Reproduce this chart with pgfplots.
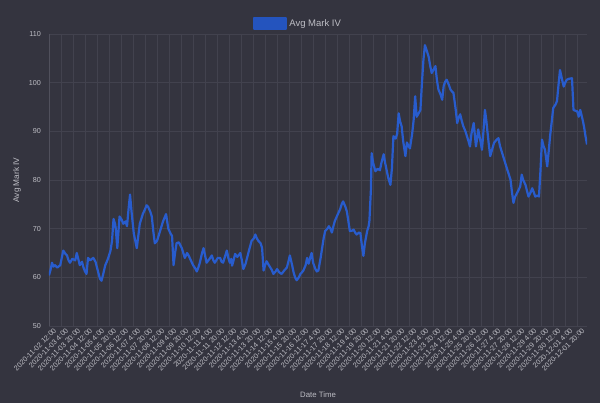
\documentclass[border=0pt]{standalone}
\usepackage{fontspec}
\setmainfont{Liberation Sans}
\usepackage{pgfplots}
\pgfplotsset{compat=1.18}
\definecolor{bg}{RGB}{52,52,63}
\definecolor{gridc}{RGB}{66,66,78}
\definecolor{axc}{RGB}{80,80,92}
\definecolor{txt}{RGB}{190,190,197}
\definecolor{lineblue}{RGB}{40,92,205}
\definecolor{legblue}{RGB}{36,84,190}
\begin{document}
\begin{tikzpicture}[x=1pt,y=1pt]
\fill[bg] (0,0) rectangle (600,403);
\useasboundingbox (0,0) rectangle (600,403);
\begin{axis}[
  at={(49pt,77pt)}, anchor=south west,
  scale only axis, width=538pt, height=292pt,
  xmin=0, xmax=717, ymin=50, ymax=110,
  ytick={50,60,70,80,90,100,110},
  xtick={0,16,...,704},
  xticklabels={2020-11-02 12:00,2020-11-03 4:00,2020-11-03 20:00,2020-11-04 12:00,2020-11-05 4:00,2020-11-05 20:00,2020-11-06 12:00,2020-11-07 4:00,2020-11-07 20:00,2020-11-08 12:00,2020-11-09 4:00,2020-11-09 20:00,2020-11-10 12:00,2020-11-11 4:00,2020-11-11 20:00,2020-11-12 12:00,2020-11-13 4:00,2020-11-13 20:00,2020-11-14 12:00,2020-11-15 4:00,2020-11-15 20:00,2020-11-16 12:00,2020-11-17 4:00,2020-11-17 20:00,2020-11-18 12:00,2020-11-19 4:00,2020-11-19 20:00,2020-11-20 12:00,2020-11-21 4:00,2020-11-21 20:00,2020-11-22 12:00,2020-11-23 4:00,2020-11-23 20:00,2020-11-24 12:00,2020-11-25 4:00,2020-11-25 20:00,2020-11-26 12:00,2020-11-27 4:00,2020-11-27 20:00,2020-11-28 12:00,2020-11-29 4:00,2020-11-29 20:00,2020-11-30 12:00,2020-12-01 4:00,2020-12-01 20:00},
  /pgf/number format/assume math mode=true,
  major tick length=0pt,
  grid=major,
  major grid style={gridc, line width=0.6pt},
  axis line style={draw=none},
  axis x line*=bottom, axis y line*=left,
  x tick label style={font=\fontsize{7.2}{8}\selectfont, text=txt, rotate=45, anchor=north east, inner sep=1pt, yshift=-3pt, xshift=3pt},
  y tick label style={font=\fontsize{7.2}{8}\selectfont, text=txt, inner sep=0pt, xshift=-8pt},
  xlabel={Date Time}, ylabel={Avg Mark IV},
  xlabel style={font=\fontsize{7.8}{9}\selectfont, text=txt, at={(axis description cs:0.5,-0.236)}, anchor=center},
  ylabel style={font=\fontsize{8.3}{9}\selectfont, text=txt, at={(axis description cs:-0.0595,0.5)}, anchor=center},
  legend style={at={(axis description cs:0.463,1.0)}, anchor=center, yshift=10.5pt, draw=none, fill=none, font=\fontsize{9.5}{10}\selectfont, text=txt, inner sep=0pt},
  legend image code/.code={\fill[legblue] (0pt,-5.5pt) rectangle (32pt,5.5pt);},
]
\addplot[draw=axc, line width=0.8pt, forget plot] coordinates {(0,50) (0,110)};
\addplot[draw=axc, line width=0.8pt, forget plot] coordinates {(0,50) (717,50)};
\addplot[lineblue, line width=2.2pt, line join=round] coordinates {
(0,60.4) (2,61.5) (4,63) (6,62.2) (8,62.5) (11,62) (15,62.5) (17,64) (19,65.5) (22,64.8) (24,64.5) (26,63.5) (28,63) (31,63.8) (35,63.5) (37,65) (39,63.8) (41,62.5) (44,63.2) (46,62) (48,61.2) (50,60.7) (52,64) (55,63.5) (59,64) (62,63.2) (64,62) (66,60.8) (68,59.7) (70,59.3) (72,60.5) (75,62.5) (77,63.2) (79,64) (82,65.5) (84,67.5) (86,72) (88,71) (89,70) (91,66) (94,72.5) (97,71.8) (99,71) (102,71.5) (104,70.5) (106,74) (108,77) (110,73.5) (113,69) (115,67.5) (117,66) (119,68.5) (121,71) (125,73) (128,74) (130,74.8) (132,74.5) (135,73.5) (137,72.5) (139,69.5) (141,67) (144,67.5) (146,68.5) (149,70) (152,71.5) (156,73) (159,70) (162,69) (164,68.5) (166,62.5) (168,65) (170,67) (173,67.2) (177,66) (179,65) (181,64) (184,65) (186,64.5) (189,63.5) (192,62.5) (195,61.8) (197,61.2) (199,62) (201,63) (204,65) (206,66) (208,64.5) (210,63) (214,63.8) (217,64.5) (219,63.5) (221,63) (225,64) (228,64) (230,63.2) (232,63) (235,64.5) (237,65.5) (239,64) (241,63) (243,63.8) (244,62.4) (246,63.5) (248,64.8) (251,64.2) (255,65) (257,63.5) (259,61.7) (262,62.8) (264,64) (267,65.8) (270,67.5) (273,68) (275,68.8) (277,68) (279,67.5) (282,67) (284,66) (286,61.4) (288,62.5) (290,63.3) (293,62.5) (295,62) (297,61.5) (299,60.7) (302,61.2) (304,61.7) (307,61) (310,60.7) (314,61.5) (317,62) (319,63.2) (321,64.5) (324,62.5) (326,61) (328,60) (330,59.4) (333,60) (335,60.7) (337,61) (339,61.4) (342,62.5) (344,64) (346,62.8) (348,64) (350,65) (352,63) (355,61.7) (357,61.2) (359,61.4) (362,64) (364,66) (366,68) (368,69.5) (371,70) (373,70.5) (375,70) (377,69.2) (379,70.5) (381,71.6) (385,73) (388,74) (390,75) (392,75.6) (395,74.5) (397,73.5) (399,71.5) (401,69.5) (404,69.6) (406,69.8) (408,69.2) (410,68.8) (413,69.2) (415,69.1) (417,66.5) (419,64.4) (421,67) (424,69.5) (426,70.5) (427,71.6) (429,78) (430,85.5) (432,83.5) (435,81.8) (438,82.3) (441,82) (443,83.5) (446,85.3) (448,83.5) (450,82) (452,80.5) (455,79) (457,82.4) (459,89) (462,88.5) (464,89.5) (466,93.7) (468,92) (470,91) (472,88) (475,84.9) (477,87.7) (479,87) (481,86.5) (484,89.5) (486,92.4) (488,97.2) (490,93) (493,93.8) (495,94.4) (497,99.9) (499,104.7) (501,107.7) (503,106.8) (506,105.3) (508,103.5) (510,102) (513,102.8) (515,103.4) (517,100.5) (519,98.6) (522,97.5) (524,96.5) (526,99.3) (528,100.2) (530,100.6) (533,99.5) (535,98.6) (537,98.2) (539,97.9) (542,94.5) (544,91.7) (546,92.8) (548,93.5) (550,92.2) (552,91.1) (555,90) (557,89) (559,88) (561,86.9) (563,89.5) (566,91.7) (568,88.5) (569,86.9) (571,89) (572,90.4) (575,88) (577,86.2) (579,90) (581,94.4) (583,92) (584,90.4) (586,87.5) (588,84.9) (591,86.5) (593,87.6) (596,88.2) (599,88.6) (601,87) (604,85.5) (608,83.5) (611,82) (615,80.1) (617,77.5) (619,75.3) (621,76.5) (624,77.4) (626,78) (628,78.7) (630,81.1) (632,80) (635,79) (637,77.8) (639,76.6) (642,77.5) (644,78.3) (646,77.5) (648,76.6) (651,76.8) (653,76.6) (655,82) (657,88.3) (659,87) (661,86.2) (664,82.8) (666,86) (668,89.3) (670,92) (672,94.8) (675,95.5) (677,96.2) (679,99.5) (681,102.6) (684,100.5) (686,99.2) (688,100) (690,100.6) (693,100.8) (697,100.9) (699,94.4) (702,94.2) (704,94.1) (706,93) (708,94.4) (711,92.5) (713,91) (715,89) (717,87.3)
};
\addlegendentry{Avg Mark IV}
\end{axis}
\end{tikzpicture}
\end{document}
